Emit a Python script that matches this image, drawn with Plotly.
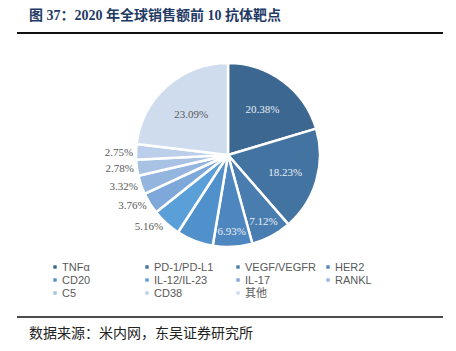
import plotly.graph_objects as go

labels = ["TNFα", "PD-1/PD-L1", "VEGF/VEGFR", "HER2", "CD20", "IL-12/IL-23",
          "IL-17", "RANKL", "C5", "CD38", "其他"]
values = [20.38, 18.23, 7.12, 6.93, 6.48, 5.16, 3.76, 3.32, 2.78, 2.75, 23.09]
shown = [True, True, True, True, False, True, True, True, True, True, True]
colors = ["#3B6790", "#4373A1", "#4A7DAF", "#4E87BF", "#5191CB", "#5B9FD9",
          "#7DA8D9", "#94B5DE", "#A8C2E4", "#BBCEEA", "#CFDCEE"]
positions = ["inside", "inside", "inside", "inside", "inside", "outside",
             "outside", "outside", "outside", "outside", "inside"]
in_colors = ["#E8EEF5"] * 10 + ["#595959"]

title = "图 37：2020 年全球销售额前 10 抗体靶点"
source = "数据来源：米内网，东吴证券研究所"

W, H = 456, 351
texts = [f"{v:.2f}%" if s else "" for v, s in zip(values, shown)]

fig = go.Figure()
cx, cy, r = 228, 155, 92
fig.add_trace(go.Pie(
    labels=labels, values=values, sort=False, direction="clockwise", rotation=0,
    text=texts, textinfo="text", textposition=positions,
    insidetextorientation="horizontal",
    marker=dict(colors=colors, line=dict(color="white", width=2.5)),
    insidetextfont=dict(family="Liberation Serif", size=11, color=in_colors),
    outsidetextfont=dict(family="Liberation Serif", size=11, color="#595959"),
    domain=dict(x=[(cx - r) / W, (cx + r) / W], y=[1 - (cy + r) / H, 1 - (cy - r) / H]),
    showlegend=False, hoverinfo="label+percent",
))

shapes = [
    dict(type="line", xref="paper", yref="paper", x0=17 / W, x1=443 / W,
         y0=1 - 33 / H, y1=1 - 33 / H, line=dict(color="#111111", width=2)),
    dict(type="line", xref="paper", yref="paper", x0=17 / W, x1=443 / W,
         y0=1 - 317 / H, y1=1 - 317 / H, line=dict(color="#111111", width=1.5)),
]
annotations = [
    dict(text=f"<b>{title}</b>", x=27 / W, y=1 - 15 / H, xref="paper", yref="paper",
         xanchor="left", yanchor="middle", showarrow=False,
         font=dict(family="Liberation Serif, Noto Sans CJK SC", size=14, color="#1F3A64")),
    dict(text=source, x=27 / W, y=1 - 332 / H, xref="paper", yref="paper",
         xanchor="left", yanchor="middle", showarrow=False,
         font=dict(family="Noto Sans CJK SC", size=14, color="#222222")),
]

# custom legend: 4 columns, 3 rows
col_x = [55, 147, 238, 328]
row_y = [267, 280, 293]
for i, (lab, col) in enumerate(zip(labels, colors)):
    mx = col_x[i % 4]
    my = row_y[i // 4]
    shapes.append(dict(type="rect", xref="paper", yref="paper",
                       x0=(mx - 1.7) / W, x1=(mx + 1.7) / W,
                       y0=1 - (my + 1.7) / H, y1=1 - (my - 1.7) / H,
                       fillcolor=col, line=dict(width=0)))
    annotations.append(dict(text=lab, x=(mx + 5) / W, y=1 - my / H, xref="paper",
                            yref="paper", xanchor="left", yanchor="middle",
                            showarrow=False,
                            font=dict(family="Liberation Sans, Noto Sans CJK SC",
                                      size=11, color="#595959")))

fig.update_layout(
    width=W, height=H, margin=dict(l=0, r=0, t=0, b=0),
    paper_bgcolor="white", plot_bgcolor="white",
    shapes=shapes, annotations=annotations,
)
fig.write_html("out.html")
